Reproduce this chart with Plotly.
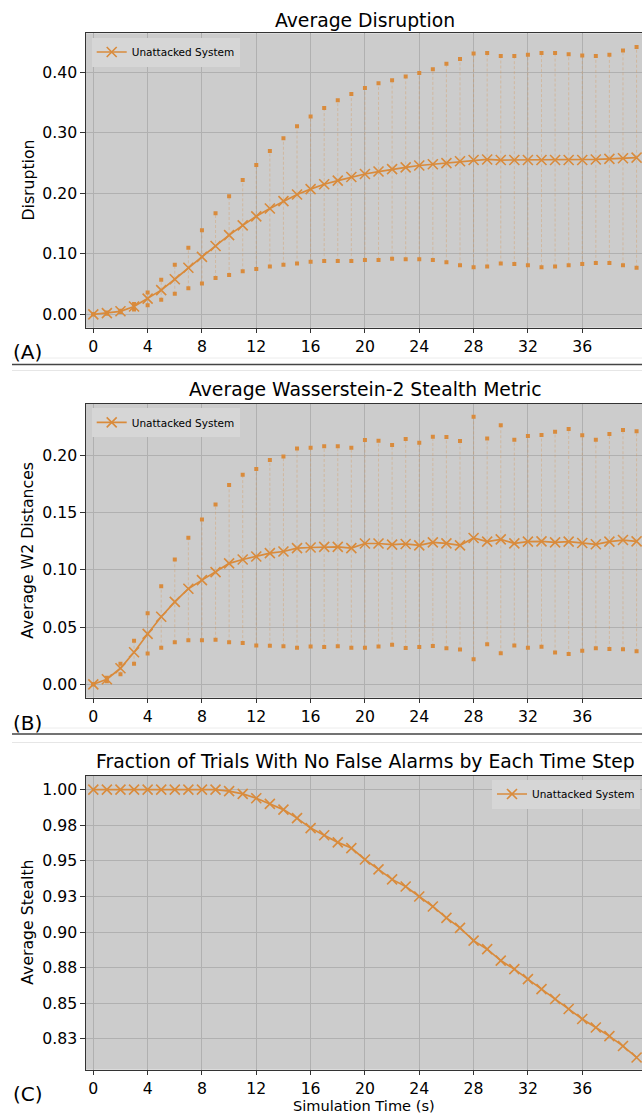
import plotly.graph_objects as go

# ---------------- data ----------------
t = list(range(41))

disr_mean = [0.000, 0.002, 0.005, 0.013, 0.026, 0.040, 0.058, 0.077, 0.095, 0.113,
             0.131, 0.147, 0.162, 0.175, 0.187, 0.198, 0.207, 0.215, 0.221, 0.227,
             0.232, 0.236, 0.240, 0.243, 0.246, 0.248, 0.250, 0.253, 0.255, 0.256,
             0.255, 0.255, 0.255, 0.255, 0.255, 0.255, 0.255, 0.256, 0.257, 0.258, 0.259]
disr_upper = [0.000, 0.003, 0.006, 0.017, 0.036, 0.057, 0.082, 0.110, 0.139, 0.167,
              0.195, 0.222, 0.247, 0.270, 0.291, 0.311, 0.327, 0.341, 0.354, 0.364,
              0.374, 0.382, 0.387, 0.393, 0.399, 0.405, 0.414, 0.422, 0.431, 0.432,
              0.427, 0.427, 0.429, 0.432, 0.432, 0.430, 0.428, 0.427, 0.429, 0.436, 0.442]
disr_lower = [0.000, 0.001, 0.004, 0.008, 0.015, 0.024, 0.034, 0.043, 0.051, 0.060,
              0.065, 0.071, 0.075, 0.079, 0.082, 0.084, 0.087, 0.088, 0.088, 0.088,
              0.090, 0.090, 0.092, 0.091, 0.091, 0.090, 0.086, 0.081, 0.078, 0.079,
              0.084, 0.083, 0.081, 0.078, 0.079, 0.081, 0.083, 0.085, 0.085, 0.081, 0.077]

w2_mean = [0.000, 0.0044, 0.014, 0.028, 0.044, 0.059, 0.072, 0.0835, 0.091, 0.098,
           0.1056, 0.109, 0.1116, 0.1146, 0.116, 0.119, 0.1195, 0.120, 0.120, 0.119,
           0.123, 0.123, 0.122, 0.1226, 0.1214, 0.124, 0.1231, 0.1214, 0.1278, 0.1246,
           0.1266, 0.1231, 0.1246, 0.1249, 0.124, 0.1246, 0.1234, 0.1223, 0.1246, 0.126, 0.1249]
w2_upper = [0.000, 0.0058, 0.018, 0.038, 0.062, 0.0856, 0.109, 0.128, 0.144, 0.157,
            0.174, 0.183, 0.188, 0.196, 0.199, 0.206, 0.2067, 0.208, 0.208, 0.2067,
            0.2135, 0.2127, 0.209, 0.2142, 0.211, 0.2163, 0.216, 0.2125, 0.2338, 0.2146,
            0.2262, 0.2137, 0.2169, 0.2178, 0.2207, 0.223, 0.2175, 0.2137, 0.2186, 0.2221, 0.221]
w2_lower = [0.000, 0.0026, 0.0087, 0.018, 0.027, 0.032, 0.0367, 0.0384, 0.0384, 0.039,
            0.0367, 0.036, 0.034, 0.0336, 0.0333, 0.032, 0.033, 0.0326, 0.0333, 0.032,
            0.032, 0.033, 0.0345, 0.0318, 0.0326, 0.0335, 0.0314, 0.0303, 0.0218, 0.0349,
            0.0271, 0.0338, 0.032, 0.0329, 0.0277, 0.0265, 0.0294, 0.0314, 0.0309, 0.0306, 0.0288]

stealth_mean = [1.0, 1.0, 1.0, 1.0, 1.0, 1.0, 1.0, 1.0, 1.0, 1.0,
                0.999, 0.997, 0.994, 0.990, 0.986, 0.980, 0.973, 0.968, 0.963, 0.959,
                0.951, 0.944, 0.937, 0.932, 0.925, 0.918, 0.910, 0.903, 0.894, 0.888,
                0.880, 0.874, 0.867, 0.860, 0.853, 0.846, 0.839, 0.833, 0.827, 0.820, 0.812]

x_ticks = [0, 4, 8, 12, 16, 20, 24, 28, 32, 36]
stealth_ticks = [0.825, 0.85, 0.875, 0.90, 0.925, 0.95, 0.975, 1.0]
stealth_ticktext = ["0.83", "0.85", "0.88", "0.90", "0.93", "0.95", "0.98", "1.00"]

series_name = "Unattacked System"
titles = ["Average Disruption", "Average Wasserstein-2 Stealth Metric",
          "Fraction of Trials With No False Alarms by Each Time Step"]
ylabels = ["Disruption", "Average W2 Distances", "Average Stealth"]
panel_labels = ["(A)", "(B)", "(C)"]
xlabel = "Simulation Time (s)"

# ---------------- style ----------------
W, H = 642, 1115
ORANGE = "#D98B3C"
BAR = "rgba(217,139,60,0.30)"
BG = "#cccccc"
GRID = "#b0b0b0"
SPINE = "#333333"
FONT = "DejaVu Sans"
TICK_FS = 15.7


def px_y(p):
    return 1 - p / H


# panel pixel boxes (top, bottom)
panels = [(33.3, 327.7), (403.7, 697.7), (775.7, 1069.7)]
x_left = 86
x_range = [-0.5375, 40.40]
y_ranges = [[-0.0221, 0.4645], [-0.0117, 0.2451], [0.8034, 1.0098]]

fig = go.Figure()


def add_errorbars(mean, upper, lower, xa, ya):
    bx, by = [], []
    for ti, lo, hi in zip(t, lower, upper):
        bx += [ti, ti, None]
        by += [lo, hi, None]
    fig.add_trace(go.Scatter(x=bx, y=by, mode="lines", xaxis=xa, yaxis=ya,
                             line=dict(color=BAR, width=1, dash="3px,2px"),
                             showlegend=False, hoverinfo="skip"))
    for arr in (upper, lower):
        fig.add_trace(go.Scatter(x=t, y=arr, mode="markers", xaxis=xa, yaxis=ya,
                                 marker=dict(symbol="square", size=4, color=ORANGE),
                                 showlegend=False))


def add_mean(mean, xa, ya, legend):
    fig.add_trace(go.Scatter(x=t, y=mean, mode="lines+markers", xaxis=xa, yaxis=ya,
                             name=series_name, legend=legend,
                             line=dict(color=ORANGE, width=1.7),
                             marker=dict(symbol="x-thin", size=10,
                                         line=dict(color=ORANGE, width=1.6))))


add_errorbars(disr_mean, disr_upper, disr_lower, "x", "y")
add_mean(disr_mean, "x", "y", "legend")
add_errorbars(w2_mean, w2_upper, w2_lower, "x2", "y2")
add_mean(w2_mean, "x2", "y2", "legend2")
add_mean(stealth_mean, "x3", "y3", "legend3")

axis_common = dict(showgrid=True, gridcolor=GRID, gridwidth=1, zeroline=False,
                   showline=True, linecolor=SPINE, linewidth=1.3,
                   ticks="outside", ticklen=4.5, tickwidth=1.2, tickcolor=SPINE,
                   tickfont=dict(family=FONT, size=TICK_FS, color="black"))

layout = dict(width=W, height=H, margin=dict(l=0, r=0, t=0, b=0),
              paper_bgcolor="white", plot_bgcolor=BG,
              font=dict(family=FONT, color="black"))

for i, (top, bot) in enumerate(panels):
    sfx = "" if i == 0 else str(i + 1)
    dom_y = [px_y(bot), px_y(top)]
    xa = dict(axis_common, domain=[x_left / W, 1.0], range=x_range,
              tickvals=x_ticks, anchor="y" + sfx, mirror=True)
    ya = dict(axis_common, domain=dom_y, range=y_ranges[i], anchor="x" + sfx)
    if i == 0:
        ya.update(dtick=0.1, tick0=0, tickformat=".2f")
    elif i == 1:
        ya.update(dtick=0.05, tick0=0, tickformat=".2f")
    else:
        ya.update(tickvals=stealth_ticks, ticktext=stealth_ticktext)
    layout["xaxis" + sfx] = xa
    layout["yaxis" + sfx] = ya

leg_common = dict(bgcolor="#d6d6d6", borderwidth=0,
                  font=dict(family=FONT, size=10.5, color="black"),
                  yanchor="top", itemwidth=30)
layout["legend"] = dict(leg_common, x=91.7 / W, y=px_y(37.5), xanchor="left")
layout["legend2"] = dict(leg_common, x=91.7 / W, y=px_y(407.9), xanchor="left")
layout["legend3"] = dict(leg_common, x=640 / W, y=px_y(779.5), xanchor="right")

annotations = []
title_y = [20, 389, 761.5]
label_y = [352.4, 722.7, 1094]
for i in range(3):
    annotations.append(dict(text=titles[i], x=365 / W, y=px_y(title_y[i]),
                            xref="paper", yref="paper", showarrow=False,
                            xanchor="center", yanchor="middle",
                            font=dict(family=FONT, size=18.8, color="black")))
    top, bot = panels[i]
    annotations.append(dict(text=ylabels[i], x=28 / W, y=px_y((top + bot) / 2),
                            xref="paper", yref="paper", showarrow=False, textangle=-90,
                            xanchor="center", yanchor="middle",
                            font=dict(family=FONT, size=TICK_FS, color="black")))
    annotations.append(dict(text=panel_labels[i], x=11 / W, y=px_y(label_y[i]),
                            xref="paper", yref="paper", showarrow=False,
                            xanchor="left", yanchor="middle",
                            font=dict(family=FONT, size=20, color="black")))
annotations.append(dict(text=xlabel, x=364 / W, y=0, xref="paper", yref="paper",
                        showarrow=False, xanchor="center", yanchor="bottom",
                        borderpad=0,
                        font=dict(family=FONT, size=14.6, color="black")))
layout["annotations"] = annotations

shapes = []
for dark, light1, light2 in [(364.5, 358, 370.5), (734, 728, 742.5)]:
    shapes.append(dict(type="line", xref="paper", yref="paper", x0=12 / W, x1=1,
                       y0=px_y(light1), y1=px_y(light1), line=dict(color="#ececec", width=1)))
    shapes.append(dict(type="line", xref="paper", yref="paper", x0=12 / W, x1=1,
                       y0=px_y(light2), y1=px_y(light2), line=dict(color="#e6e6e6", width=1)))
    shapes.append(dict(type="line", xref="paper", yref="paper", x0=12 / W, x1=1,
                       y0=px_y(dark), y1=px_y(dark), line=dict(color="#444444", width=1.5)))
layout["shapes"] = shapes

fig.update_layout(**layout)
fig.write_html("out.html")
